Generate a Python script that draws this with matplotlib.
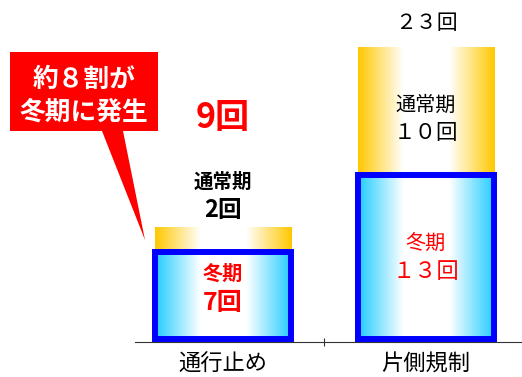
import matplotlib
matplotlib.use("Agg")
import matplotlib.pyplot as plt
import numpy as np
from matplotlib.colors import LinearSegmentedColormap
from matplotlib.patches import Rectangle, Polygon

plt.rcParams['font.family'] = ['Noto Sans CJK JP', 'DejaVu Sans']

categories = ["通行止め", "片側規制"]
winter = [7, 13]
normal = [2, 10]
totals = [9, 23]
winter_labels = ["7回", "１３回"]
normal_labels = ["2回", "１０回"]
total_labels = ["9回", "２３回"]

W, H = 522, 377
fig = plt.figure(figsize=(W/100, H/100), dpi=100)
ax = fig.add_axes([135/W, 1-342/H, (522-135)/W, 342/H])
ax.set_xlim(-0.433, 0.473 + 1)
ax.set_ylim(0, 26.65)

bw = 0.67
orange_cmap = LinearSegmentedColormap.from_list("o", ["#FFC800", "#FFFFFF", "#FFFFFF", "#FFC800"])
blue_cmap = LinearSegmentedColormap.from_list("b", ["#22CCFF", "#FFFFFF", "#FFFFFF", "#22CCFF"])
grad = np.linspace(0, 1, 256).reshape(1, -1)

for i in range(len(categories)):
    x0 = i - bw/2
    r = Rectangle((x0, winter[i]), bw, normal[i], facecolor='none', edgecolor='none')
    ax.add_patch(r)
    im = ax.imshow(grad, cmap=orange_cmap, aspect='auto',
                   extent=(x0, x0+bw, winter[i], winter[i]+normal[i]), zorder=1)
    im.set_clip_path(r)
    r2 = Rectangle((x0, 0), bw, winter[i], facecolor='none', edgecolor='none')
    ax.add_patch(r2)
    im2 = ax.imshow(grad, cmap=blue_cmap, aspect='auto',
                    extent=(x0, x0+bw, 0, winter[i]), zorder=2)
    im2.set_clip_path(r2)
    ax.add_patch(Rectangle((x0, 0.2), bw, winter[i]-0.2, facecolor='none',
                           edgecolor='#0000FF', linewidth=4.3, zorder=3))

def lab(x, y, dy, s, **kw):
    ax.annotate(s, xy=(x, y), xytext=(0, dy), textcoords='offset points',
                ha='center', va='center', zorder=5, **kw)

# bar 1 (通行止め)
lab(0, winter[0]/2, 17.3, "冬期", color='#FF0000', fontsize=14.5, fontweight='bold')
lab(0, winter[0]/2, -4.3, winter_labels[0], color='#FF0000', fontsize=18, fontweight='bold')
lab(0, totals[0], 32, "通常期", color='black', fontsize=14, fontweight='bold')
lab(0, totals[0], 11.9, normal_labels[0], color='black', fontsize=17, fontweight='bold')
lab(0, totals[0], 78.8, total_labels[0], color='#FF0000', fontsize=24.5, fontweight='bold')

# bar 2 (片側規制)
lab(1, winter[1]/2, 11.2, "冬期", color='#FF0000', fontsize=14.5)
lab(1, winter[1]/2, -9.6, winter_labels[1], color='#FF0000', fontsize=16)
lab(1, winter[1] + normal[1]/2, 4.3, "通常期", color='black', fontsize=14.5)
lab(1, winter[1] + normal[1]/2, -15.8, normal_labels[1], color='black', fontsize=15.5)
lab(1, totals[1], 17.3, total_labels[1], color='black', fontsize=15)

for s in ['top', 'right', 'left']:
    ax.spines[s].set_visible(False)
ax.spines['bottom'].set_color('#333333')
ax.set_yticks([])
ax.set_xticks([0.5])
ax.set_xticklabels([])
ax.tick_params(axis='x', length=6, direction='inout', color='#333333')
for i, c in enumerate(categories):
    ax.annotate(c, xy=(i, 0), xytext=(0, -16), textcoords='offset points',
                ha='center', va='center', fontsize=16, color='black')

# callout
def fp(x, y):
    return (x/W, 1 - y/H)
callout = Polygon([fp(10, 52), fp(158, 52), fp(158, 131), fp(123, 131), fp(145, 240),
                   fp(102, 131), fp(10, 131)], closed=True, facecolor='#FF0000',
                  edgecolor='none', transform=fig.transFigure, zorder=10)
fig.add_artist(callout)
fig.text(84/W, 1 - 79/H, "約８割が", color='white', ha='center', va='center',
         fontsize=18.5, fontweight='bold', zorder=11)
fig.text(84/W, 1 - 112/H, "冬期に発生", color='white', ha='center', va='center',
         fontsize=18.5, fontweight='bold', zorder=11)

fig.savefig("out.png", dpi=100)
